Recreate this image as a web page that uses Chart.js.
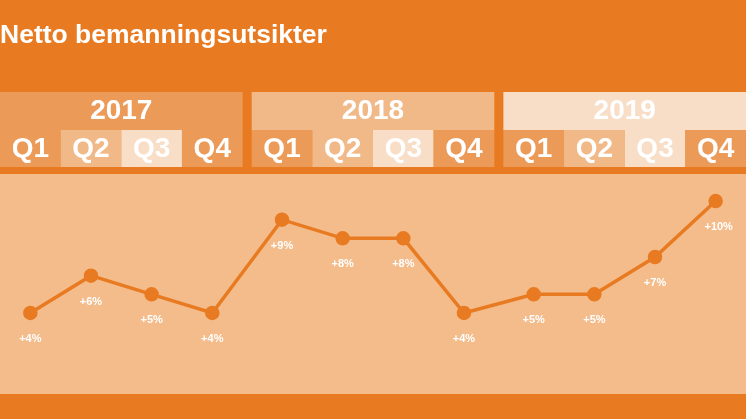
<!DOCTYPE html><html><head><script src="https://cdn.jsdelivr.net/npm/chart.js@4"></script>
<style>html,body{margin:0;padding:0;background:#E87B22}canvas{display:block}</style></head><body>
<div style="width:746px;height:419px"><canvas id="c" width="746" height="419"></canvas></div>
<script>
const years=["2017","2018","2019"];
const quarters=["Q1","Q2","Q3","Q4"];
const values=[4,6,5,4,9,8,8,4,5,5,7,10];
const labels=values.map(v=>"+"+v+"%");
const GAP=0.15;
const xs=values.map((v,i)=>i+Math.floor(i/4)*GAP);
const F="'Liberation Sans', Arial, sans-serif";
const qCol=["#EC9A58","#F2B988","#F8DEC6","#EC9A58"];
const yCol=["#EC9A58","#F2B988","#F8DEC6"];
const deco={id:'deco',beforeDraw(ch){
 const c=ch.ctx,x=ch.scales.x;
 c.save();
 c.fillStyle="#E87B22";c.fillRect(0,0,746,419);
 c.fillStyle="#F4BC8B";c.fillRect(0,174,746,220);
 c.fillStyle="#fff";c.font="bold 26.5px "+F;c.textBaseline="middle";c.textAlign="left";
 c.fillText("Netto bemanningsutsikter",0,36);
 years.forEach((y,j)=>{
  const l=x.getPixelForValue(j*(4+GAP)-0.5),r=x.getPixelForValue(j*(4+GAP)+3.5);
  c.fillStyle=yCol[j];c.fillRect(l,92,r-l,38);
  c.fillStyle="#fff";c.textAlign="center";c.font="bold 28px "+F;
  c.fillText(y,(l+r)/2,111);
  quarters.forEach((q,k)=>{
   const a=x.getPixelForValue(j*(4+GAP)+k-0.5),b=x.getPixelForValue(j*(4+GAP)+k+0.5);
   c.fillStyle=qCol[k];c.fillRect(a,130,b-a,37);
   c.fillStyle="#fff";c.fillText(q,(a+b)/2,149);
  });
 });
 c.restore();
},afterDatasetsDraw(ch){
 const c=ch.ctx,m=ch.getDatasetMeta(0);
 c.save();c.fillStyle="#fff";c.font="bold 11px "+F;c.textAlign="center";c.textBaseline="middle";
 m.data.forEach((p,i)=>c.fillText(labels[i],p.x+(i==11?3:0),p.y+26));
 c.restore();
}};
new Chart(document.getElementById('c'),{type:'line',
 data:{datasets:[{data:xs.map((x,i)=>({x,y:values[i]})),borderColor:"#E87B22",backgroundColor:"#E87B22",borderWidth:3.5,pointRadius:5.5,pointHoverRadius:5.5,tension:0}]},
 options:{responsive:false,animation:false,layout:{padding:0,autoPadding:false},
  plugins:{legend:{display:false},tooltip:{enabled:false}},
  scales:{x:{type:'linear',display:false,min:-0.5,max:11.5+2*GAP},y:{display:false,min:-1.68,max:20.77}}},
 plugins:[deco]});
</script></body></html>
